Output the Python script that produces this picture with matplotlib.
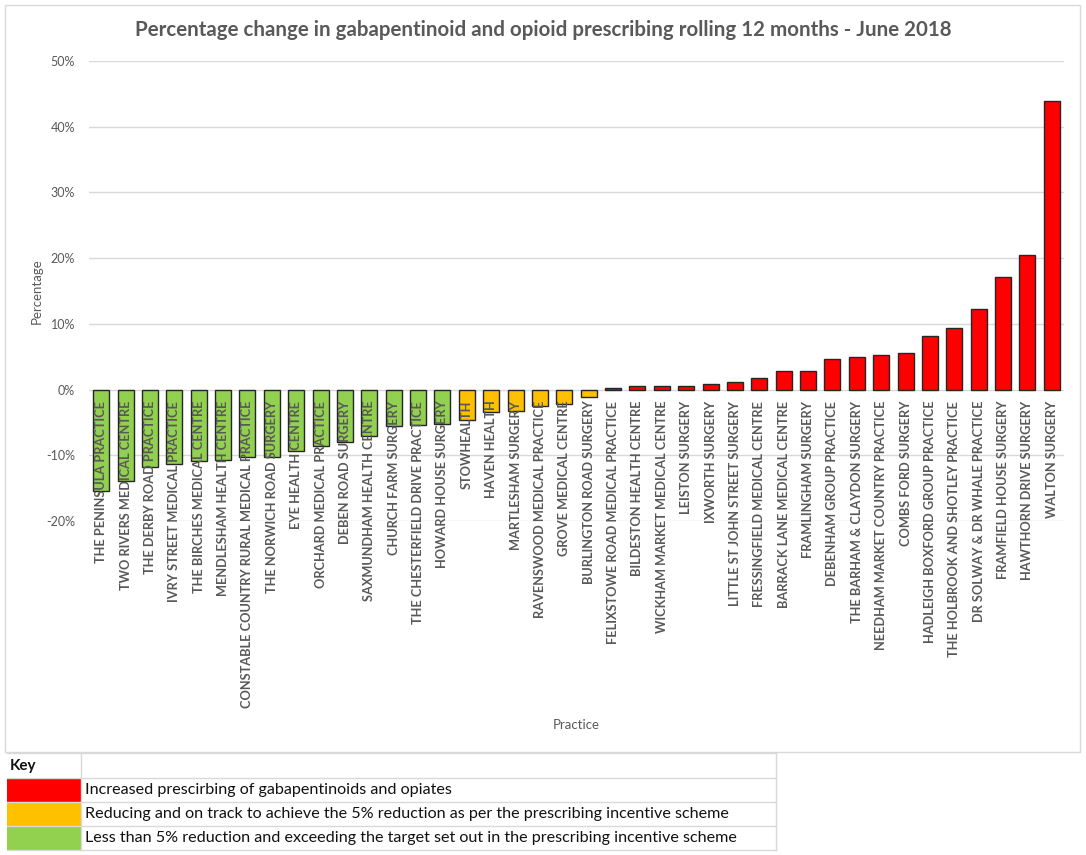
import matplotlib
matplotlib.use("Agg")
import matplotlib.pyplot as plt
from matplotlib.patches import Rectangle
from matplotlib.lines import Line2D
from matplotlib.ticker import FuncFormatter, MultipleLocator

practices = [
    "THE PENINSULA PRACTICE", "TWO RIVERS MEDICAL CENTRE", "THE DERBY ROAD PRACTICE",
    "IVRY STREET MEDICAL PRACTICE", "THE BIRCHES MEDICAL CENTRE", "MENDLESHAM HEALTH CENTRE",
    "CONSTABLE COUNTRY RURAL MEDICAL PRACTICE", "THE NORWICH ROAD SURGERY", "EYE HEALTH CENTRE",
    "ORCHARD MEDICAL PRACTICE", "DEBEN ROAD SURGERY", "SAXMUNDHAM HEALTH CENTRE",
    "CHURCH FARM SURGERY", "THE CHESTERFIELD DRIVE PRACTICE", "HOWARD HOUSE SURGERY",
    "STOWHEALTH", "HAVEN HEALTH", "MARTLESHAM SURGERY", "RAVENSWOOD MEDICAL PRACTICE",
    "GROVE MEDICAL CENTRE", "BURLINGTON ROAD SURGERY", "FELIXSTOWE ROAD MEDICAL PRACTICE",
    "BILDESTON HEALTH CENTRE", "WICKHAM MARKET MEDICAL CENTRE", "LEISTON SURGERY",
    "IXWORTH SURGERY", "LITTLE ST JOHN STREET SURGERY", "FRESSINGFIELD MEDICAL CENTRE",
    "BARRACK LANE MEDICAL CENTRE", "FRAMLINGHAM SURGERY", "DEBENHAM GROUP PRACTICE",
    "THE BARHAM & CLAYDON SURGERY", "NEEDHAM MARKET COUNTRY PRACTICE", "COMBS FORD SURGERY",
    "HADLEIGH BOXFORD GROUP PRACTICE", "THE HOLBROOK AND SHOTLEY PRACTICE",
    "DR SOLWAY & DR WHALE PRACTICE", "FRAMFIELD HOUSE SURGERY", "HAWTHORN DRIVE SURGERY",
    "WALTON SURGERY",
]
pct_change = [
    -15.4, -13.9, -11.8, -11.3, -10.9, -10.7, -10.3, -10.2, -9.3, -8.6,
    -8.0, -7.0, -5.6, -5.4, -5.2, -4.7, -3.4, -3.3, -2.5, -2.2,
    -1.1, 0.3, 0.6, 0.6, 0.6, 0.8, 1.1, 1.8, 2.9, 2.9,
    4.6, 5.0, 5.2, 5.6, 8.2, 9.3, 12.3, 17.1, 20.5, 43.9,
]
status = ["green"] * 15 + ["amber"] * 6 + ["red"] * 19
status_colors = {"red": "#FF0000", "amber": "#FFC000", "green": "#92D050"}
key_labels = [
    "Increased prescirbing of gabapentinoids and opiates",
    "Reducing and on track to achieve the 5% reduction as per the prescribing incentive scheme",
    "Less than 5% reduction and exceeding the target set out in the prescribing incentive scheme",
]
key_status = ["red", "amber", "green"]

FONT = ["Lato", "DejaVu Sans"]
plt.rcParams["font.family"] = FONT
GREY = "#595959"

W, H = 1086, 855
fig = plt.figure(figsize=(W / 100, H / 100), dpi=100)

def fx(px):
    return px / W

def fy(py):
    return 1 - py / H

# chart frame
fig.add_artist(Rectangle((fx(5), fy(752)), fx(1080) - fx(5), fy(5) - fy(752),
                         transform=fig.transFigure, fill=False, edgecolor="#D9D9D9", lw=1))

ax = fig.add_axes([fx(89), fy(521), fx(1064) - fx(89), fy(61) - fy(521)])
x = list(range(len(practices)))
ax.bar(x, pct_change, width=0.66, color=[status_colors[s] for s in status],
       edgecolor="#262626", linewidth=1.0, zorder=3)
ax.set_xlim(-0.5, len(practices) - 0.5)
ax.set_ylim(-20, 50)
ax.yaxis.set_major_locator(MultipleLocator(10))
ax.yaxis.set_major_formatter(FuncFormatter(lambda v, p: f"{v:.0f}%"))
ax.grid(axis="y", color="#D9D9D9", lw=1, zorder=0)
ax.set_xticks([])
for s in ax.spines.values():
    s.set_visible(False)
ax.tick_params(axis="y", length=0, labelsize=9, labelcolor=GREY, pad=10)

for i, name in enumerate(practices):
    ax.annotate(name, (i, 0), xytext=(0, -8), textcoords="offset points",
                rotation=90, ha="center", va="top", fontsize=9.2, color=GREY,
                fontweight="bold", zorder=5)

fig.text(fx(543), fy(30), "Percentage change in gabapentinoid and opioid prescribing rolling 12 months - June 2018",
         ha="center", va="center", fontsize=14.8, fontweight="bold", color=GREY)
fig.text(fx(37), fy(291), "Percentage", rotation=90, ha="center", va="center",
         fontsize=9.5, color=GREY)
fig.text(fx(576), fy(725), "Practice", ha="center", va="center", fontsize=9.5, color=GREY)

# key table
tl, tc, tr = 7, 81, 776
rows = [753, 778, 802, 826, 850]
for k, s in enumerate(key_status):
    y0, y1 = rows[k + 1], rows[k + 2]
    fig.add_artist(Rectangle((fx(tl), fy(y1)), fx(tc) - fx(tl), fy(y0) - fy(y1),
                             transform=fig.transFigure, facecolor=status_colors[s],
                             edgecolor="none"))
    fig.text(fx(tc + 4), fy((y0 + y1) / 2), key_labels[k], ha="left", va="center",
             fontsize=11.6, color="#111111")
for yy in rows:
    fig.add_artist(Line2D([fx(tl), fx(tr)], [fy(yy), fy(yy)], transform=fig.transFigure,
                          color="#D9D9D9", lw=1))
for xx in (tc, tr):
    fig.add_artist(Line2D([fx(xx), fx(xx)], [fy(rows[0]), fy(rows[-1])],
                          transform=fig.transFigure, color="#D9D9D9", lw=1))
fig.text(fx(10), fy(766), "Key", ha="left", va="center", fontsize=11,
         fontweight="bold", color="#111111")

fig.savefig("out.png", dpi=100)
